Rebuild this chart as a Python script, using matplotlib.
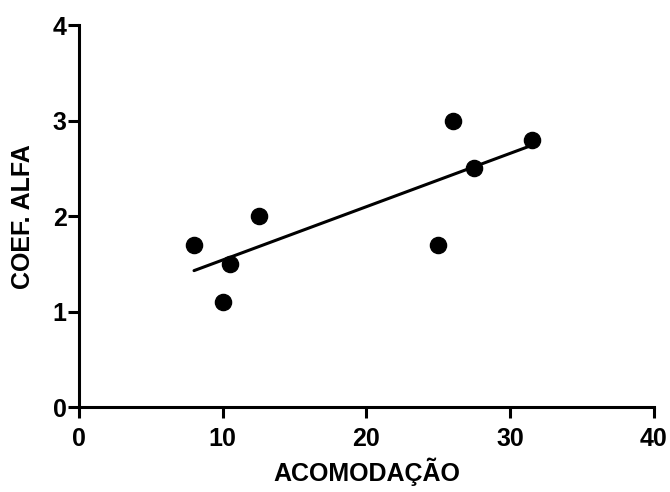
import matplotlib
matplotlib.use("Agg")
import matplotlib.pyplot as plt
import numpy as np

plt.rcParams['font.family'] = ['Liberation Sans', 'DejaVu Sans']
plt.rcParams['font.weight'] = 'bold'

# data
acomodacao = [8, 10, 10.5, 12.5, 25, 26, 27.5, 31.5]
coef_alfa = [1.7, 1.1, 1.5, 2.0, 1.7, 3.0, 2.5, 2.8]
x_ticks = [0, 10, 20, 30, 40]
y_ticks = [0, 1, 2, 3, 4]

fig = plt.figure(figsize=(6.7, 4.92), dpi=100)
ax = fig.add_axes([0.118, 0.172, 0.858, 0.777])

# linear regression over the data range
slope, intercept = np.polyfit(acomodacao, coef_alfa, 1)
xs = np.array([min(acomodacao), max(acomodacao)])
ax.plot(xs, slope * xs + intercept, color='black', lw=2.2, solid_capstyle='round')
ax.scatter(acomodacao, coef_alfa, s=135, color='black', zorder=3)

ax.set_xlim(0, 40)
ax.set_ylim(0, 4)
ax.set_xticks(x_ticks)
ax.set_yticks(y_ticks)
ax.spines['top'].set_visible(False)
ax.spines['right'].set_visible(False)
for s in ['left', 'bottom']:
    ax.spines[s].set_linewidth(2.2)
ax.tick_params(axis='x', length=8, width=2.2, labelsize=18, pad=6)
ax.tick_params(axis='y', length=8, width=2.2, labelsize=18, pad=1)
for lab in ax.get_xticklabels() + ax.get_yticklabels():
    lab.set_fontweight('bold')

ax.set_xlabel('ACOMODAÇÃO', fontsize=18, fontweight='bold', labelpad=5)
ax.set_ylabel('COEF. ALFA', fontsize=18, fontweight='bold', labelpad=13)

fig.savefig('out.png', dpi=100)
